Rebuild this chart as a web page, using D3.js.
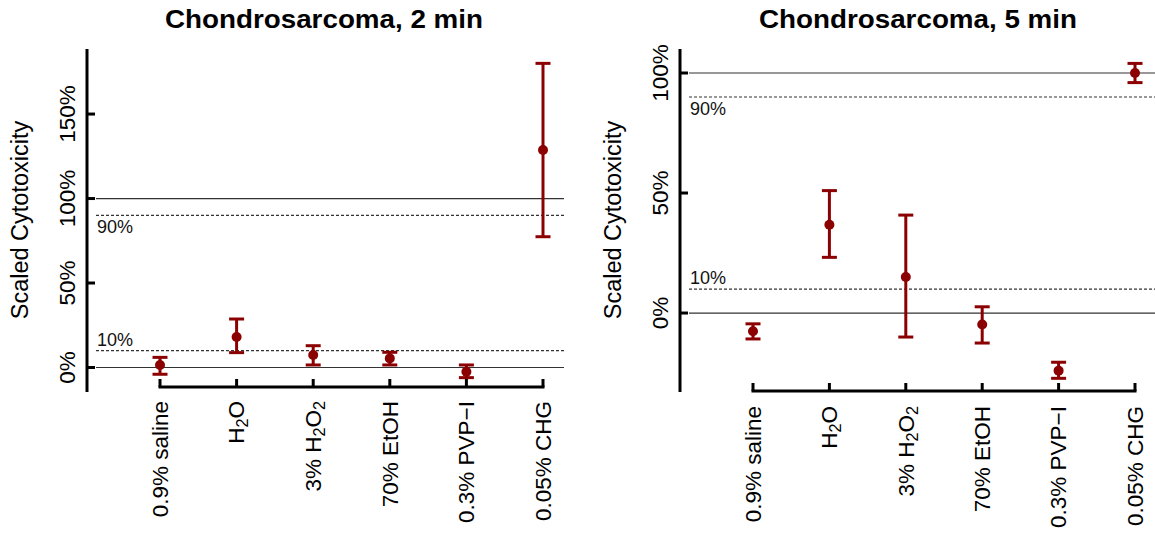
<!DOCTYPE html>
<html>
<head>
<meta charset="utf-8">
<script src="https://cdn.jsdelivr.net/npm/d3@7"></script>
<style>
  html, body { margin: 0; background: #fff; }
  svg { display: block; font-family: "Liberation Sans", Arial, sans-serif; }
</style>
</head>
<body>
<svg id="chart" width="1155" height="538"></svg>
<script>
// 値は図から目で読み取ったもの
const categories = ['0.9% saline', 'H2O', '3% H2O2', '70% EtOH', '0.3% PVP\u2212I', '0.05% CHG'];

const mean2min = [0.015, 0.18, 0.074, 0.054, -0.025, 1.287];
const lower2min = [-0.04, 0.088, 0.015, 0.015, -0.06, 0.774];
const upper2min = [0.06, 0.287, 0.129, 0.09, 0.015, 1.80];

const mean5min = [-0.076, 0.368, 0.15, -0.048, -0.24, 1.0];
const lower5min = [-0.108, 0.232, -0.10, -0.125, -0.272, 0.96];
const upper5min = [-0.045, 0.51, 0.408, 0.026, -0.205, 1.04];

const yTicks2min = [0, 0.5, 1, 1.5];
const yTicks5min = [0, 0.5, 1];

const solidRefs = [0, 1];
const dashedRefs = [0.1, 0.9];

const DARK_RED = '#8b0000';
const pct = d3.format('.0%');

const svg = d3.select('#chart');

// H2O などの数字を下付きにする
const addLabelParts = (text, label) => {
  label.split(/(?<=[A-Z])(\d)/).forEach((part, i) => {
    if (!part) return;
    const span = text.append('tspan').text(part);
    if (i % 2 === 1) {
      span.attr('baseline-shift', '-25%').attr('font-size', '72%');
    }
  });
};

const drawPanel = ({ title, mean, lower, upper, ticks, layout }) => {
  const g = svg.append('g');
  const rows = categories.map((name, i) => ({
    name, mean: mean[i], lower: lower[i], upper: upper[i]
  }));

  const y = d3.scaleLinear().domain(layout.yDomain).range([layout.yBottom, layout.yTop]);
  const x = d3.scalePoint().domain(categories).range(layout.xRange);

  // タイトル
  g.append('text')
    .attr('x', layout.titleX)
    .attr('y', 28)
    .attr('text-anchor', 'middle')
    .attr('font-size', 25)
    .attr('font-weight', 'bold')
    .attr('textLength', 318)
    .attr('lengthAdjust', 'spacingAndGlyphs')
    .text(title);

  // 基準線 (0%, 100% 実線 / 10%, 90% 破線)
  g.selectAll('line.solid')
    .data(solidRefs)
    .join('line')
    .attr('class', 'solid')
    .attr('x1', layout.axisX + 9)
    .attr('x2', layout.lineEnd)
    .attr('y1', d => y(d))
    .attr('y2', d => y(d))
    .attr('stroke', '#333')
    .attr('stroke-width', 1.2);

  g.selectAll('line.dashed')
    .data(dashedRefs)
    .join('line')
    .attr('class', 'dashed')
    .attr('x1', layout.axisX + 9)
    .attr('x2', layout.lineEnd)
    .attr('y1', d => y(d))
    .attr('y2', d => y(d))
    .attr('stroke', '#333')
    .attr('stroke-width', 1.2)
    .attr('stroke-dasharray', '3,2');

  g.selectAll('text.ref')
    .data(dashedRefs)
    .join('text')
    .attr('class', 'ref')
    .attr('x', layout.axisX + 10)
    .attr('y', d => (d < 0.5 ? y(d) - 5 : y(d) + 18))
    .attr('font-size', 18)
    .attr('fill', '#111')
    .text(d => pct(d));

  // Y軸
  g.append('line')
    .attr('x1', layout.axisX).attr('x2', layout.axisX)
    .attr('y1', layout.yTop).attr('y2', layout.yBottom)
    .attr('stroke', '#000').attr('stroke-width', 3);

  g.selectAll('line.ytick')
    .data(ticks)
    .join('line')
    .attr('class', 'ytick')
    .attr('x1', layout.axisX).attr('x2', layout.axisX + 8)
    .attr('y1', d => y(d)).attr('y2', d => y(d))
    .attr('stroke', '#000').attr('stroke-width', 3);

  g.selectAll('text.ytick')
    .data(ticks)
    .join('text')
    .attr('class', 'ytick')
    .attr('transform', d => `translate(${layout.axisX - 12},${y(d)}) rotate(-90)`)
    .attr('text-anchor', 'middle')
    .attr('font-size', 22.5)
    .text(d => pct(d));

  g.append('text')
    .attr('transform', `translate(${layout.yTitleX},220) rotate(-90)`)
    .attr('text-anchor', 'middle')
    .attr('font-size', 23.5)
    .text('Scaled Cytotoxicity');

  // X軸
  g.append('line')
    .attr('x1', x(categories[0])).attr('x2', x(categories[categories.length - 1]))
    .attr('y1', layout.xAxisY).attr('y2', layout.xAxisY)
    .attr('stroke', '#000').attr('stroke-width', 3)
    .attr('stroke-linecap', 'square');

  g.selectAll('line.xtick')
    .data(categories)
    .join('line')
    .attr('class', 'xtick')
    .attr('x1', d => x(d)).attr('x2', d => x(d))
    .attr('y1', layout.xAxisY).attr('y2', layout.xAxisY - 8)
    .attr('stroke', '#000').attr('stroke-width', 3);

  g.selectAll('text.xlabel')
    .data(categories)
    .join('text')
    .attr('class', 'xlabel')
    .attr('transform', d => `translate(${x(d)},${layout.labelTop}) rotate(-90)`)
    .attr('text-anchor', 'end')
    .attr('dy', '0.35em')
    .attr('font-size', 22.5)
    .each(function (d) { addLabelParts(d3.select(this), d); });

  // エラーバーと平均値
  const bars = g.selectAll('g.bar')
    .data(rows)
    .join('g')
    .attr('class', 'bar')
    .attr('stroke', DARK_RED)
    .attr('fill', DARK_RED);

  bars.append('line')
    .attr('x1', d => x(d.name)).attr('x2', d => x(d.name))
    .attr('y1', d => y(d.lower)).attr('y2', d => y(d.upper))
    .attr('stroke-width', 3);

  [d => d.lower, d => d.upper].forEach(value => {
    bars.append('line')
      .attr('x1', d => x(d.name) - 7.5).attr('x2', d => x(d.name) + 7.5)
      .attr('y1', d => y(value(d))).attr('y2', d => y(value(d)))
      .attr('stroke-width', 3);
  });

  bars.append('circle')
    .attr('cx', d => x(d.name))
    .attr('cy', d => y(d.mean))
    .attr('r', 5)
    .attr('stroke', 'none');
};

drawPanel({
  title: 'Chondrosarcoma, 2 min',
  mean: mean2min, lower: lower2min, upper: upper2min,
  ticks: yTicks2min,
  layout: {
    axisX: 87, yTop: 49, yBottom: 392, yDomain: [-0.145, 1.885],
    xRange: [160, 543], xAxisY: 387, labelTop: 401,
    lineEnd: 564, titleX: 324, yTitleX: 28
  }
});

drawPanel({
  title: 'Chondrosarcoma, 5 min',
  mean: mean5min, lower: lower5min, upper: upper5min,
  ticks: yTicks5min,
  layout: {
    axisX: 680, yTop: 49, yBottom: 392, yDomain: [-0.329, 1.1],
    xRange: [753, 1135], xAxisY: 391, labelTop: 406,
    lineEnd: 1155, titleX: 918, yTitleX: 621
  }
});
</script>
</body>
</html>
